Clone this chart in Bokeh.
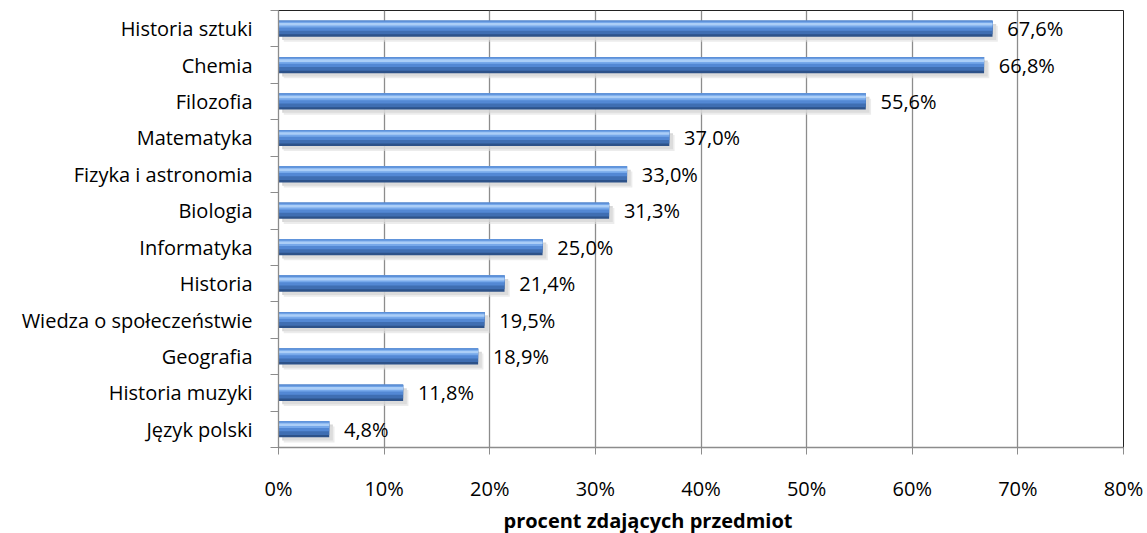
from bokeh.plotting import figure
from bokeh.models import FixedTicker, Range1d, Title, ColumnDataSource
from bokeh.core.properties import value
from bokeh.embed import file_html
from bokeh.resources import INLINE

categories = ["Historia sztuki", "Chemia", "Filozofia", "Matematyka", "Fizyka i astronomia",
              "Biologia", "Informatyka", "Historia", "Wiedza o społeczeństwie", "Geografia",
              "Historia muzyki", "Język polski"]
values = [67.6, 66.8, 55.6, 37.0, 33.0, 31.3, 25.0, 21.4, 19.5, 18.9, 11.8, 4.8]
x_ticks = [0, 10, 20, 30, 40, 50, 60, 70, 80]
x_tick_labels = ["0%", "10%", "20%", "30%", "40%", "50%", "60%", "70%", "80%"]
value_labels = ["67,6%", "66,8%", "55,6%", "37,0%", "33,0%", "31,3%", "25,0%", "21,4%",
                "19,5%", "18,9%", "11,8%", "4,8%"]
x_label = "procent zdających przedmiot"

FONT = "Open Sans"
FS = "20px"
n = len(categories)
ys = [n - 1 - i + 0.5 for i in range(n)]

p = figure(width=1147, height=533, output_backend="svg", toolbar_location=None,
           x_range=Range1d(0, 80), y_range=Range1d(0, n),
           min_border_left=278, min_border_right=24, min_border_top=10, min_border_bottom=83)
p.outline_line_color = "#222222"
p.outline_line_width = 1
p.background_fill_color = "white"
p.border_fill_color = "white"

# grid
p.ygrid.visible = False
p.xgrid.ticker = FixedTicker(ticks=x_ticks)
p.xgrid.grid_line_color = "#8c8c8c"
p.xgrid.grid_line_width = 1.3

h = 0.44

def layer(a, b, color, dy=0.0, dx=0.0, alpha=1.0):
    cy = [y + h / 2 - (a + b) / 2 * h - dy for y in ys]
    p.hbar(y=cy, left=[dx] * n, right=[v + dx for v in values], height=(b - a) * h,
           fill_color=color, line_color=None, fill_alpha=alpha)

# shadow
layer(0.0, 1.0, "#c8c8c8", dy=0.09, dx=0.35, alpha=0.7)
layer(0.0, 1.0, "#e0e0e0", dy=0.14, dx=0.5, alpha=0.6)
# bar body
layer(0.0, 1.0, "#2d5289")
layer(0.0, 0.85, "#3f6eb2")
layer(0.0, 0.62, "#5388d4")
layer(0.0, 0.42, "#76a8ea")
layer(0.14, 0.30, "#abcef7")
layer(0.0, 0.08, "#5d90d8")

# value labels
src = ColumnDataSource(dict(x=[v + 1.4 for v in values], y=ys, t=value_labels))
p.text(x="x", y="y", text="t", source=src, text_font=value(FONT), text_font_size=FS,
       text_baseline="middle", text_align="left", text_color="black")

# axes
xa = p.xaxis[0]
xa.ticker = FixedTicker(ticks=x_ticks)
xa.major_label_overrides = {t: l for t, l in zip(x_ticks, x_tick_labels)}
xa.axis_line_color = "#8c8c8c"
xa.axis_line_width = 1.3
xa.major_tick_line_color = "#8c8c8c"
xa.major_tick_out = 7
xa.major_tick_in = 0
xa.minor_tick_line_color = None
xa.major_label_standoff = 20
xa.major_label_text_font = FONT
xa.major_label_text_font_size = FS
xa.major_label_text_color = "black"

ya = p.yaxis[0]
ya.ticker = FixedTicker(ticks=ys, minor_ticks=list(range(n + 1)))
ya.major_label_overrides = {y: c for y, c in zip(ys, categories)}
ya.axis_line_color = "#8c8c8c"
ya.axis_line_width = 1.3
ya.major_tick_line_color = None
ya.minor_tick_line_color = "#8c8c8c"
ya.minor_tick_out = 8
ya.minor_tick_in = 0
ya.major_label_standoff = 18
ya.major_label_text_font = FONT
ya.major_label_text_font_size = FS
ya.major_label_text_color = "black"

p.add_layout(Title(text=x_label, align="left", offset=225, text_font=FONT,
                   text_font_size=FS, text_font_style="bold", text_color="black",
                   standoff=0), "below")

open("out.html", "w").write(file_html(p, INLINE))
